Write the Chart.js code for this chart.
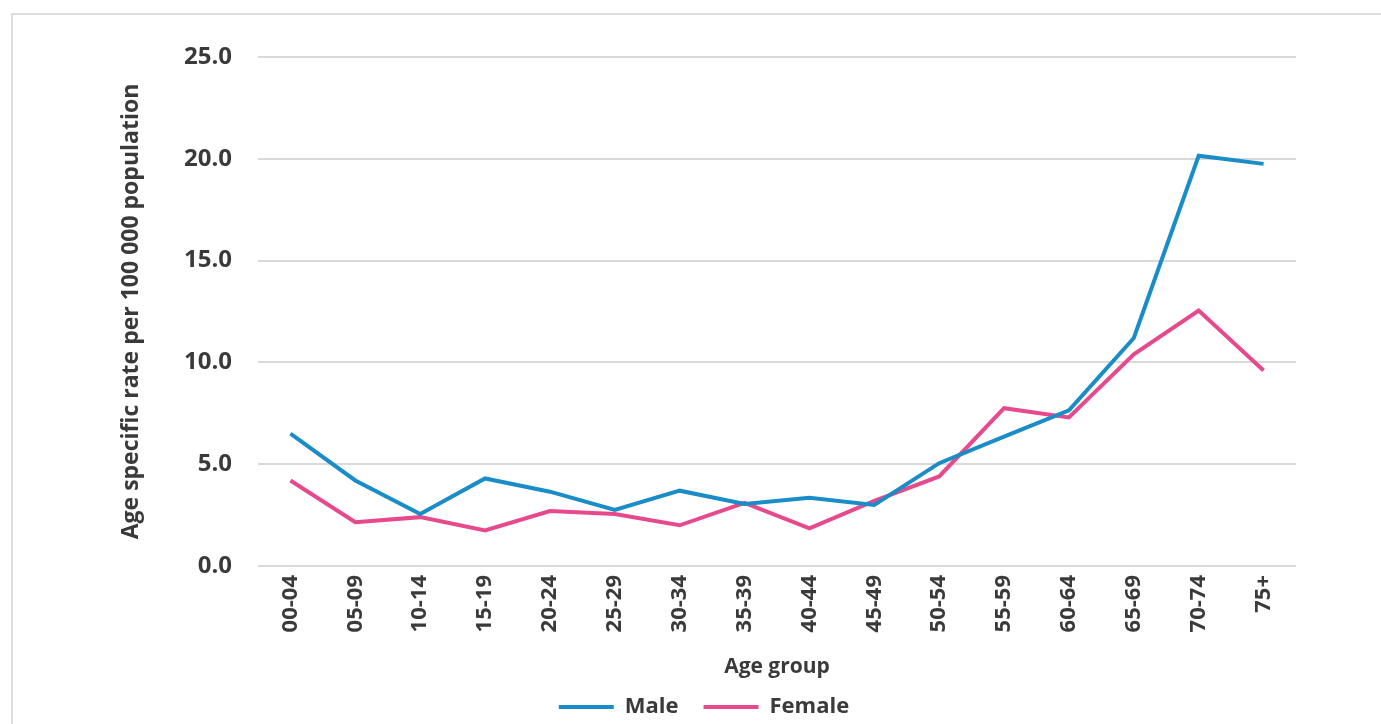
<!DOCTYPE html>
<html>
<head>
<meta charset="utf-8">
<script src="https://cdn.jsdelivr.net/npm/chart.js@4/dist/chart.umd.min.js"></script>
<style>
    html, body { margin: 0; padding: 0; background: #fff; overflow: hidden; }
    #wrap { position: relative; width: 1381px; height: 724px; }
    #frame {
        position: absolute; left: 11px; top: 13px; width: 1400px; height: 800px;
        border-top: 2px solid #dedede; border-left: 2px solid #dedede;
        pointer-events: none;
    }
    canvas { position: absolute; left: 0; top: 0; }
</style>
</head>
<body>
<div id="wrap">
    <canvas id="rateChart" width="1381" height="724"></canvas>
    <div id="frame"></div>
</div>
<script>
// Age groups on the x axis
const AGE_GROUPS = ['00-04', '05-09', '10-14', '15-19', '20-24', '25-29', '30-34', '35-39',
                    '40-44', '45-49', '50-54', '55-59', '60-64', '65-69', '70-74', '75+'];

// Age specific rate per 100 000 population
const MALE = [6.5, 4.2, 2.55, 4.3, 3.65, 2.75, 3.7, 3.05, 3.35, 3.0, 5.05, 6.35, 7.65, 11.2, 20.15, 19.75];
const FEMALE = [4.2, 2.15, 2.4, 1.75, 2.7, 2.55, 2.0, 3.1, 1.85, 3.2, 4.4, 7.75, 7.3, 10.4, 12.55, 9.6];

const Y_TICKS = [0, 5, 10, 15, 20, 25];

const TEXT_COLOR = '#3a3a3a';
const GRID_COLOR = '#d9d9d9';
const FONT = "'Open Sans', sans-serif";

function init() {
    const ctx = document.getElementById('rateChart');
    Chart.defaults.font.family = FONT;
    Chart.defaults.color = TEXT_COLOR;

    new Chart(ctx, {
        type: 'line',
        data: {
            labels: AGE_GROUPS,
            datasets: [
                {
                    label: 'Male',
                    data: MALE,
                    borderColor: '#1a8cc8',
                    backgroundColor: '#1a8cc8',
                    borderWidth: 4,
                    pointRadius: 0,
                    tension: 0,
                    fill: false
                },
                {
                    label: 'Female',
                    data: FEMALE,
                    borderColor: '#e64a8d',
                    backgroundColor: '#e64a8d',
                    borderWidth: 4,
                    pointRadius: 0,
                    tension: 0,
                    fill: false
                }
            ]
        },
        options: {
            responsive: false,
            animation: false,
            layout: { padding: { top: 57, right: 85, left: 112, bottom: -4 } },
            plugins: {
                tooltip: { enabled: false },
                legend: {
                    position: 'bottom',
                    labels: {
                        usePointStyle: true,
                        pointStyle: 'line',
                        pointStyleWidth: 55,
                        padding: 25,
                        color: TEXT_COLOR,
                        font: { size: 22, weight: 'bold' }
                    }
                }
            },
            scales: {
                x: {
                    offset: true,
                    grid: { display: false, drawTicks: false },
                    border: { display: false },
                    ticks: {
                        minRotation: 90,
                        maxRotation: 90,
                        autoSkip: false,
                        padding: 9,
                        font: { size: 22, weight: 'bold' }
                    },
                    title: {
                        display: true,
                        text: 'Age group',
                        padding: { top: 0, bottom: -8.6 },
                        font: { size: 21, weight: 'bold' }
                    },
                    afterFit: (scale) => { scale.height = 105; }
                },
                y: {
                    min: 0,
                    max: 25,
                    afterBuildTicks: (scale) => {
                        scale.ticks = Y_TICKS.map(v => ({ value: v }));
                    },
                    grid: { color: GRID_COLOR, lineWidth: 2, drawTicks: false },
                    border: { display: false },
                    ticks: {
                        padding: 26,
                        font: { size: 24, weight: 'bold' },
                        callback: (v) => Number(v).toFixed(1)
                    },
                    title: {
                        display: true,
                        text: 'Age specific rate per 100 000 population',
                        padding: { top: 6, bottom: 0 },
                        font: { size: 23, weight: 'bold' }
                    },
                    afterFit: (scale) => { scale.width = 146; }
                }
            }
        }
    });
}

init();
</script>
</body>
</html>
